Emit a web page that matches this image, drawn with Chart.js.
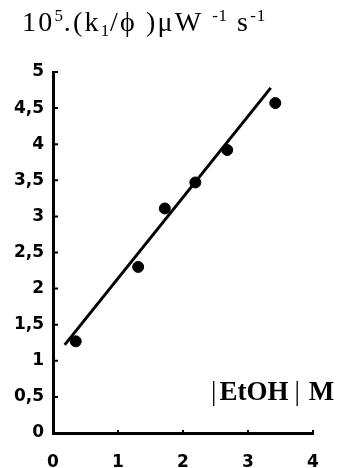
<!DOCTYPE html>
<html>
<head>
<meta charset="utf-8">
<script src="https://cdn.jsdelivr.net/npm/chart.js@4.4.1/dist/chart.umd.min.js"></script>
<style>
  html, body { margin: 0; padding: 0; background: #fff; }
  #wrap { position: relative; width: 347px; height: 468px; }
  #c { position: absolute; left: 0; top: 0; }
  .title { position: absolute; left: 22px; top: 7px; font-family: "Liberation Serif", "Times New Roman", serif; font-size: 28px; line-height: 30px; letter-spacing: 2.2px; color: #000; white-space: nowrap; }
  .title sup, .title sub { font-size: 17px; line-height: 0; letter-spacing: 0.8px; }
  .title sub { vertical-align: -5px; }
  .title sup { vertical-align: 10px; }
  .xname { position: absolute; left: 211px; top: 377px; font-family: "Liberation Serif", "Times New Roman", serif; font-size: 27px; font-weight: bold; line-height: 28px; color: #000; white-space: nowrap; }
  .xname .bar { font-weight: normal; }
  .xname .b1 { margin-right: 3px; }
  .xname .b2 { margin-left: 6px; margin-right: 9px; }
</style>
</head>
<body>
<div id="wrap">
  <canvas id="c" width="347" height="468"></canvas>
  <div class="title">10<sup>5</sup>.(k<sub>1</sub>/ϕ )μW <sup>-1</sup> s<sup>-1</sup></div>
  <div class="xname"><span class="bar b1">|</span>EtOH<span class="bar b2">|</span>M</div>
</div>
<script>
// ---- data ----
const ethanolM   = [0.35, 1.31, 1.72, 2.19, 2.68, 3.42];   // |EtOH| in M
const k1PerPhi   = [1.27, 2.30, 3.11, 3.47, 3.92, 4.57];   // 10^5 (k1/phi)
const fitLineX   = [0.18, 3.35];
const fitLineY   = [1.22, 4.78];
const xTickValues = [0, 1, 2, 3, 4];
const yTickValues = [0, 0.5, 1, 1.5, 2, 2.5, 3, 3.5, 4, 4.5, 5];

const pts = ethanolM.map((x, i) => ({ x: x, y: k1PerPhi[i] }));
const fit = fitLineX.map((x, i) => ({ x: x, y: fitLineY[i] }));

const fmt = v => String(v).replace('.', ',');

// inward tick marks drawn at the library's scale positions
const inwardTicks = {
  id: 'inwardTicks',
  afterDatasetsDraw(chart) {
    const { ctx, scales: { x, y } } = chart;
    ctx.save();
    ctx.strokeStyle = '#000';
    ctx.lineWidth = 2;
    ctx.beginPath();
    yTickValues.forEach(v => {
      const py = y.getPixelForValue(v);
      ctx.moveTo(x.left, py);
      ctx.lineTo(x.left + 5, py);
    });
    xTickValues.slice(1).forEach(v => {
      const px = x.getPixelForValue(v);
      ctx.moveTo(px, y.bottom);
      ctx.lineTo(px, y.bottom - 3);
    });
    ctx.stroke();
    ctx.restore();
  }
};

new Chart(document.getElementById('c'), {
  type: 'scatter',
  data: {
    datasets: [
      {
        type: 'line',
        data: fit,
        borderColor: '#000',
        borderWidth: 3,
        pointRadius: 0,
        fill: false,
        order: 2
      },
      {
        data: pts,
        backgroundColor: '#000',
        borderColor: '#000',
        pointRadius: 5.5,
        pointHoverRadius: 5.5,
        order: 1
      }
    ]
  },
  options: {
    responsive: false,
    animation: false,
    events: [],
    layout: { padding: { top: 72, right: 34, left: 0, bottom: 0 } },
    plugins: { legend: { display: false }, tooltip: { enabled: false } },
    scales: {
      x: {
        type: 'linear',
        min: 0, max: 4,
        afterFit: s => { s.height = 35; },
        afterBuildTicks: s => { s.ticks = xTickValues.map(v => ({ value: v })); },
        border: { color: '#000', width: 3 },
        grid: { display: true, drawOnChartArea: false, drawTicks: false, color: 'rgba(0,0,0,0)' },
        ticks: {
          color: '#000',
          padding: 19,
          font: { family: 'DejaVu Sans', size: 17, weight: 'bold' },
          callback: v => fmt(v)
        }
      },
      y: {
        type: 'linear',
        min: 0, max: 5,
        afterFit: s => { s.width = 53; },
        afterBuildTicks: s => { s.ticks = yTickValues.map(v => ({ value: v })); },
        border: { color: '#000', width: 3 },
        grid: { display: true, drawOnChartArea: false, drawTicks: false, color: 'rgba(0,0,0,0)' },
        ticks: {
          color: '#000',
          padding: 9,
          font: { family: 'DejaVu Sans', size: 17, weight: 'bold' },
          callback: v => fmt(v)
        }
      }
    }
  },
  plugins: [inwardTicks]
});
</script>
</body>
</html>
